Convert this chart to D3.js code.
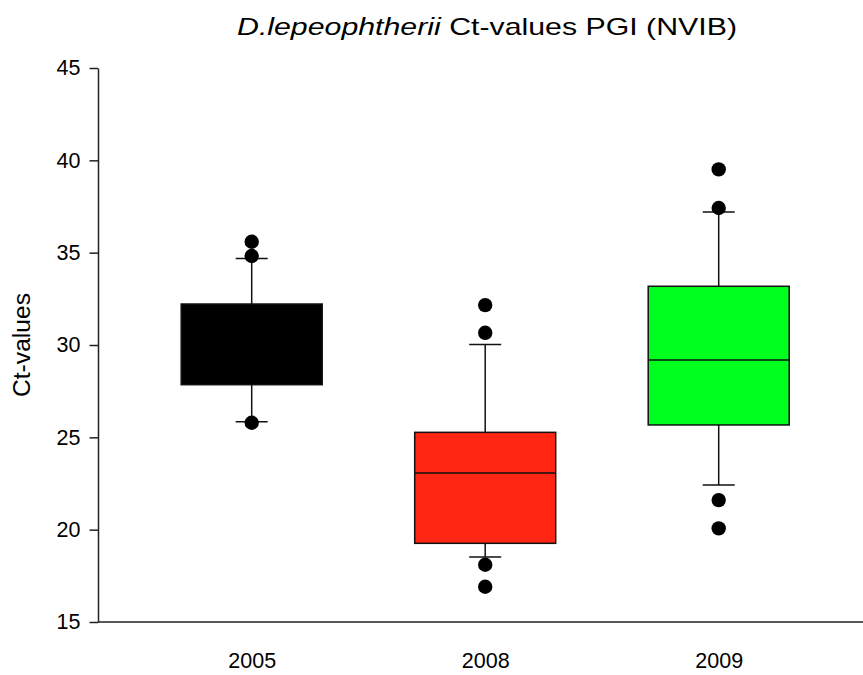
<!DOCTYPE html>
<html>
<head>
<meta charset="utf-8">
<script src="https://cdn.jsdelivr.net/npm/d3@7"></script>
<style>
  body { margin: 0; background: #fff; }
  text { font-family: "Liberation Sans", Arial, sans-serif; fill: #000; }
</style>
</head>
<body>
<div id="chart"></div>
<script>
// values
var years = ["2005", "2008", "2009"];
var boxColors = ["#000000", "#ff2614", "#00ff1e"];
var q1 = [27.85, 19.26, 25.67];
var median = [null, 23.07, 29.19];   // 2005 median hidden in the black box
var q3 = [32.22, 25.27, 33.18];
var whiskerLow = [25.84, 18.52, 22.42];
var whiskerHigh = [34.69, 30.03, 37.2];
var outliers = [
  [35.59, 34.82, 25.79],
  [32.16, 30.66, 18.1, 16.91],
  [39.51, 37.42, 21.6, 20.07]
];
var yTicks = [15, 20, 25, 30, 35, 40, 45];

var W = 863, H = 675;
var plotLeft = 98, plotRight = 863, plotTop = 68, plotBottom = 622;

var svg = d3.select("#chart")
  .append("svg")
    .attr("width", W)
    .attr("height", H);

var y = d3.scaleLinear()
    .domain([15, 45])
    .range([plotBottom, plotTop]);

var x = d3.scalePoint()
    .domain(years)
    .range([251.7, 718.7]);

var boxW = 141, capW = 32;

// y axis
var yAxis = svg.append("g")
    .attr("transform", "translate(" + plotLeft + ",0)")
    .call(d3.axisLeft(y).tickValues(yTicks).tickSize(8.5).tickSizeOuter(0).tickPadding(9));
yAxis.select(".domain").attr("stroke", "#222").attr("stroke-width", 1.5);
yAxis.selectAll(".tick line").attr("stroke", "#222").attr("stroke-width", 1.5);
yAxis.selectAll(".tick text").style("font-size", "21.5px").attr("fill", "#000");

// x axis (labels) + baseline across plot
var xAxis = svg.append("g")
    .attr("transform", "translate(0," + plotBottom + ")")
    .call(d3.axisBottom(x).tickSize(0).tickPadding(31));
xAxis.select(".domain").remove();
xAxis.selectAll(".tick text").style("font-size", "21.5px").attr("fill", "#000");

svg.append("line")
    .attr("x1", plotLeft).attr("x2", plotRight)
    .attr("y1", y(15)).attr("y2", y(15))
    .attr("stroke", "#222").attr("stroke-width", 1.5);

// boxes
var data = years.map(function(yr, i) {
  return {year: yr, color: boxColors[i], q1: q1[i], q3: q3[i], med: median[i],
          lo: whiskerLow[i], hi: whiskerHigh[i], out: outliers[i]};
});

var g = svg.selectAll(".box")
    .data(data)
    .enter()
    .append("g")
    .attr("class", "box");

// whiskers
g.append("line")
    .attr("x1", function(d) { return x(d.year); })
    .attr("x2", function(d) { return x(d.year); })
    .attr("y1", function(d) { return y(d.hi); })
    .attr("y2", function(d) { return y(d.lo); })
    .attr("stroke", "#111").attr("stroke-width", 1.5);

g.selectAll(".cap")
    .data(function(d) { return [{year: d.year, v: d.lo}, {year: d.year, v: d.hi}]; })
    .enter()
    .append("line")
    .attr("x1", function(d) { return x(d.year) - capW / 2; })
    .attr("x2", function(d) { return x(d.year) + capW / 2; })
    .attr("y1", function(d) { return y(d.v); })
    .attr("y2", function(d) { return y(d.v); })
    .attr("stroke", "#111").attr("stroke-width", 1.5);

g.append("rect")
    .attr("x", function(d) { return x(d.year) - boxW / 2; })
    .attr("width", boxW)
    .attr("y", function(d) { return y(d.q3); })
    .attr("height", function(d) { return y(d.q1) - y(d.q3); })
    .attr("fill", function(d) { return d.color; })
    .attr("stroke", "#111").attr("stroke-width", 1.5);

g.filter(function(d) { return d.med != null; })
  .append("line")
    .attr("x1", function(d) { return x(d.year) - boxW / 2; })
    .attr("x2", function(d) { return x(d.year) + boxW / 2; })
    .attr("y1", function(d) { return y(d.med); })
    .attr("y2", function(d) { return y(d.med); })
    .attr("stroke", "#111").attr("stroke-width", 1.5);

// outliers
g.selectAll(".dot")
    .data(function(d) { return d.out.map(function(v) { return {year: d.year, v: v}; }); })
    .enter()
    .append("circle")
    .attr("cx", function(d) { return x(d.year); })
    .attr("cy", function(d) { return y(d.v); })
    .attr("r", 7.2)
    .attr("fill", "#000");

// title
var title = svg.append("text")
    .attr("x", 487)
    .attr("y", 35)
    .attr("text-anchor", "middle")
    .attr("textLength", 500)
    .attr("lengthAdjust", "spacingAndGlyphs")
    .style("font-size", "24px");
title.append("tspan").style("font-style", "italic").text("D.lepeophtherii");
title.append("tspan").text(" Ct-values PGI (NVIB)");

// y label
svg.append("text")
    .attr("transform", "translate(30," + 345 + ") rotate(-90)")
    .attr("text-anchor", "middle")
    .attr("textLength", 104)
    .attr("lengthAdjust", "spacingAndGlyphs")
    .style("font-size", "23px")
    .text("Ct-values");
</script>
</body>
</html>
